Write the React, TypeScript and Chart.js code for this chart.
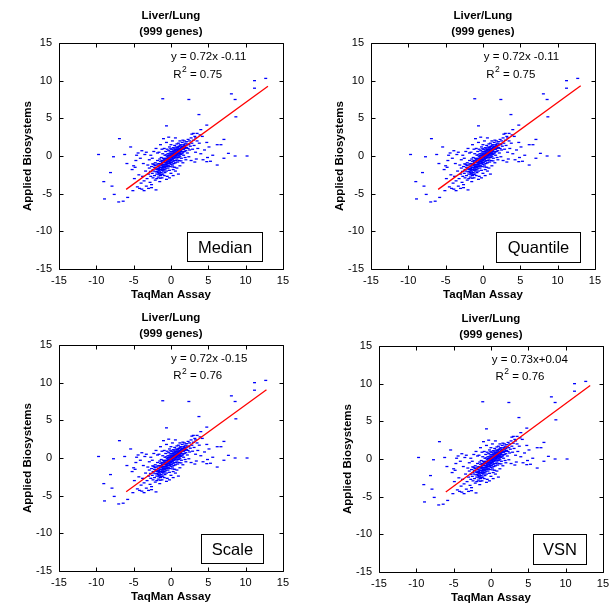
import { useEffect, useRef } from "react";
import { Chart, registerables } from "chart.js";

Chart.register(...registerables);

// ---------------- data ----------------
const panelNames = ["Median", "Quantile", "Scale", "VSN"];
const equationTexts = ["y = 0.72x -0.11", "y = 0.72x -0.11", "y = 0.72x -0.15", "y = 0.73x+0.04"];
const r2Values = ["0.75", "0.75", "0.76", "0.76"];
const fitSlopes = [0.72, 0.72, 0.72, 0.73];
const fitIntercepts = [-0.11, -0.11, -0.15, 0.04];
const fitXStart = [-6, -6, -6, -6.05];
const fitXEnd = [13, 13.1, 12.8, 13.3];
const titleLines = ["Liver/Lung", "(999 genes)"];
const xAxisTitle = "TaqMan Assay";
const yAxisTitle = "Applied Biosystems";
const tickValues = [-15, -10, -5, 0, 5, 10, 15];

// TaqMan (x) vs Applied Biosystems (y) log ratios
const genePoints: [number, number][] = [
  // outliers
  [-9.7, 0.2], [-9.0, -3.4], [-8.9, -5.7], [-8.1, -2.2], [-7.7, -0.1], [-7.9, -4.0], [-7.6, -5.1],
  [-6.9, 2.3], [-7.0, -6.1], [-6.4, -6.0], [-6.2, 0.2], [-5.9, -1.0], [-5.8, -5.5], [-5.4, 1.2],
  [-5.1, -4.6], [-4.6, 0.1], [-4.8, -1.5], [-4.5, -4.1], [-4.2, -4.3], [-3.9, -4.4], [-3.6, -4.6],
  [-2.0, -4.5], [-1.1, 7.6], [2.4, 7.5], [-0.6, 4.0], [3.75, 5.5], [4.0, 3.5], [3.5, 3.0], [4.8, 4.1],
  [4.8, 1.8], [6.2, 1.5], [6.7, 1.5], [7.1, 2.2], [7.7, 0.35], [7.1, -0.3], [8.6, 0.0], [10.2, 0.0],
  [8.1, 8.25], [8.6, 7.5], [8.7, 5.2], [11.2, 10.0], [11.2, 9.0], [12.7, 10.3], [6.2, -1.2],
  [4.8, -0.75], [5.3, -0.7],
  // core, left
  [-2.6, -1.4], [-2.5, -2.3], [-2.4, -1.8], [-2.4, -2.9], [-2.3, -1.1], [-2.3, -2.0], [-2.2, -2.6],
  [-2.2, -1.5], [-2.1, -3.2], [-2.1, -0.9], [-2.0, -2.1], [-2.0, -1.6], [-1.9, -2.4], [-1.9, -1.2],
  [-1.9, -3.0], [-1.8, -1.8], [-1.8, -0.6], [-1.7, -2.2], [-1.7, -1.4], [-1.7, -2.8], [-1.6, -1.0],
  [-1.6, -1.9], [-1.6, -2.5], [-1.5, -1.5], [-1.5, -0.4], [-1.5, -2.1], [-1.5, -3.4],
  [-1.4, -1.2], [-1.4, -1.8], [-1.4, -2.6], [-1.4, -0.7], [-1.3, -1.5], [-1.3, -2.2], [-1.3, -0.2],
  [-1.3, -1.0], [-1.2, -1.9], [-1.2, -1.3], [-1.2, -2.9], [-1.2, -0.6], [-1.1, -1.1], [-1.1, -1.7],
  [-1.1, -2.4], [-1.1, 0.3], [-1.0, -0.8], [-1.0, -1.4], [-1.0, -2.0], [-1.0, -0.3], [-0.9, -1.2],
  [-0.9, -1.8], [-0.9, -0.5], [-0.9, -2.6], [-0.8, -0.9], [-0.8, -1.5], [-0.8, 0.1], [-0.8, -2.2],
  [-0.7, -0.6], [-0.7, -1.1], [-0.7, -1.7], [-0.7, 0.6], [-0.6, -0.3], [-0.6, -0.9], [-0.6, -1.4],
  [-0.6, -2.0], [-0.5, -0.7], [-0.5, -0.1], [-0.5, -1.2], [-0.5, 0.9], [-0.5, -2.7],
  // core, centre
  [-0.4, -0.4], [-0.4, -1.0], [-0.4, 0.3], [-0.4, -1.6], [-0.3, -0.2], [-0.3, -0.8], [-0.3, 0.7],
  [-0.3, -1.3], [-0.2, -0.5], [-0.2, 0.1], [-0.2, -1.0], [-0.2, 1.2], [-0.2, -1.9], [-0.1, -0.3],
  [-0.1, 0.4], [-0.1, -0.8], [-0.1, -1.4], [0.0, 0.0], [0.0, -0.6], [0.0, 0.6], [0.0, -1.1],
  [0.0, 1.5], [0.0, -2.3], [0.1, -0.2], [0.1, 0.3], [0.1, -0.9], [0.1, 0.9], [0.2, 0.1], [0.2, -0.5],
  [0.2, 0.6], [0.2, -1.2], [0.3, -0.1], [0.3, 0.4], [0.3, -0.7], [0.3, 1.1], [0.3, -1.8], [0.4, 0.2],
  [0.4, -0.3], [0.4, 0.8], [0.4, -1.0], [0.5, 0.0], [0.5, 0.5], [0.5, -0.6], [0.5, 1.4], [0.5, -1.5],
  // core, right
  [0.6, 0.3], [0.6, -0.2], [0.6, 0.9], [0.6, -0.9], [0.7, 0.5], [0.7, 0.0], [0.7, 1.2], [0.7, -0.6],
  [0.8, 0.2], [0.8, 0.8], [0.8, -0.4], [0.8, 1.6], [0.9, 0.6], [0.9, 0.0], [0.9, 1.1], [0.9, -0.8],
  [1.0, 0.4], [1.0, 0.9], [1.0, -0.2], [1.0, 1.7], [1.1, 0.7], [1.1, 0.1], [1.1, 1.3], [1.1, -0.6],
  [1.2, 0.5], [1.2, 1.0], [1.2, -0.1], [1.2, 2.0], [1.3, 0.8], [1.3, 0.2], [1.3, 1.5], [1.4, 0.6],
  [1.4, 1.1], [1.4, -0.3], [1.5, 0.9], [1.5, 0.3], [1.5, 1.8],
  [1.6, 1.2], [1.6, 0.5], [1.6, 2.1], [1.7, 0.9], [1.7, 1.5], [1.7, 0.1], [1.8, 1.3], [1.8, 0.6],
  [1.8, 2.0], [1.9, 1.0], [1.9, 1.7], [1.9, -0.2], [2.0, 1.4], [2.0, 0.7], [2.1, 1.9], [2.1, 1.1],
  [2.2, 0.4], [2.2, 1.6], [2.3, 2.2], [2.3, 1.0], [2.4, 1.5], [2.5, 0.8], [2.5, 2.0], [2.6, 1.3],
  [2.7, 2.4], [2.8, 1.7], [2.9, 0.9], [3.0, 2.1], [3.1, 1.4], [3.2, 2.6],
  // core, dense fill
  [-2.15, -1.25], [-1.95, -1.75], [-1.85, -2.05], [-1.75, -1.05], [-1.65, -1.65], [-1.55, -2.35],
  [-1.45, -1.05], [-1.35, -1.75], [-1.25, -1.15], [-1.25, -2.45], [-1.15, -0.85], [-1.15, -1.55],
  [-1.05, -1.15], [-1.05, -1.85], [-0.95, -0.65], [-0.95, -1.45], [-0.85, -1.15], [-0.85, -0.35],
  [-0.75, -1.35], [-0.75, -0.85], [-0.65, -0.55], [-0.65, -1.15], [-0.55, -0.95], [-0.55, -0.35],
  [-0.45, -0.65], [-0.45, -1.35], [-0.35, -0.45], [-0.35, 0.05], [-0.25, -0.75], [-0.25, -0.15],
  [-0.15, -0.55], [-0.15, 0.25], [-0.05, -0.15], [-0.05, -0.85], [0.05, 0.15], [0.05, -0.45],
  [0.15, -0.05], [0.15, 0.55], [0.25, 0.25], [0.25, -0.35], [0.35, 0.15], [0.35, 0.65],
  [0.45, 0.35], [0.45, -0.15], [0.55, 0.25], [0.55, 0.75], [0.65, 0.55], [0.65, 0.05],
  [0.75, 0.35], [0.75, 0.85], [0.85, 0.45], [0.85, 1.05], [0.95, 0.75], [0.95, 0.25],
  [1.05, 0.55], [1.05, 1.25], [1.15, 0.85], [1.15, 0.35], [1.25, 0.75], [1.25, 1.35],
  [1.35, 1.05], [1.45, 0.85], [1.55, 1.25], [1.65, 0.95], [1.75, 1.35], [1.85, 1.05],
  [1.95, 1.45], [2.05, 1.15], [-2.45, -1.05], [-2.75, -2.05], [-0.05, 0.95], [0.45, 1.05],
  [-0.65, 0.15], [-1.45, -2.95], [0.25, -1.45], [1.35, -0.65],
  // sparse surroundings
  [-3.0, -2.4], [-3.2, -3.0], [-2.8, -3.5], [-3.4, -2.0], [-3.6, -3.3], [-2.9, -1.6], [-3.8, -2.7],
  [-4.0, -3.6], [-3.3, -4.0], [-2.7, -2.7], [-2.6, -3.8], [-3.1, -1.2], [-4.3, -2.5], [-3.7, -1.0],
  [-4.1, -0.3], [-3.5, 0.2], [-2.9, -0.5], [-4.4, 0.4], [-3.9, 0.7], [-2.7, 0.1], [-3.3, 0.5],
  [-4.7, -0.6], [-5.0, -1.3], [-2.5, -0.3], [-2.3, 0.6], [-2.0, 1.0], [-1.8, 0.4], [-2.6, -4.2],
  [-3.0, -4.3], [-4.9, -3.0], [-5.2, -1.8],
  [-1.4, 1.5], [-0.9, 1.0], [-0.6, 1.8], [-1.2, 0.9], [-0.3, 2.5], [0.2, 2.0], [-1.0, 2.3],
  [0.6, 2.4], [-1.6, 0.5],
  [0.3, -2.6], [0.8, -1.6], [1.2, -1.3], [-0.2, -2.9], [1.6, -0.9], [0.6, -2.0], [1.0, -2.4],
  [2.0, -0.5], [-0.6, -3.1], [2.4, -0.1],
  [3.3, 0.5], [3.6, 1.0], [3.4, -0.4], [4.0, 0.3], [3.8, 1.7], [4.3, -0.5], [3.2, -0.8], [4.5, 0.8],
  [5.1, 1.2], [3.5, 2.0], [4.2, 2.6], [3.0, 3.0], [2.8, 2.9], [3.3, 2.4], [5.6, 0.1], [4.9, -0.2],
  [2.7, -0.6], [3.9, 2.8],
];

// ---------------- layout ----------------
const FONT = '"Liberation Sans", Arial, Helvetica, sans-serif';
const AXIS_W = 58;
const PAD_TOP = 43;
const PLOT_W = 225;
const PLOT_H = 226;
const CANVAS_W = 293;
const CANVAS_H = 305;

const PANEL_LAYOUT = [
  { left: 59, top: 43, eq: [0.0, 13.15], r2: [0.3, 10.8], box: [2.1, 12.2, -10.1, -14.0] },
  { left: 371, top: 43, eq: [0.1, 13.15], r2: [0.45, 10.8], box: [1.7, 13.0, -10.15, -14.1] },
  { left: 59, top: 345, eq: [0.0, 13.2], r2: [0.3, 10.85], box: [4.0, 12.3, -10.05, -14.0] },
  { left: 379, top: 346, eq: [0.1, 13.2], r2: [0.6, 10.9], box: [5.7, 12.8, -9.9, -13.9] },
];

function makeOverlay(i: number) {
  const L = PANEL_LAYOUT[i];
  return {
    id: "overlay" + i,
    afterDatasetsDraw(chart: any) {
      const { ctx, chartArea: a } = chart;
      const xs = chart.scales.x;
      const ys = chart.scales.y;
      ctx.save();
      ctx.strokeStyle = "#000";
      ctx.fillStyle = "#000";
      ctx.lineWidth = 1;
      const l = Math.round(a.left) + 0.5;
      const t = Math.round(a.top) + 0.5;
      const r = Math.round(a.right) + 0.5;
      const b = Math.round(a.bottom) + 0.5;
      ctx.beginPath();
      ctx.rect(l, t, r - l, b - t);
      ctx.stroke();
      // inner tick marks on all four sides
      ctx.beginPath();
      for (const v of tickValues) {
        const px = Math.round(xs.getPixelForValue(v)) + 0.5;
        ctx.moveTo(px, b);
        ctx.lineTo(px, b - 4);
        ctx.moveTo(px, t);
        ctx.lineTo(px, t + 4);
        const py = Math.round(ys.getPixelForValue(v)) + 0.5;
        ctx.moveTo(l, py);
        ctx.lineTo(l + 4, py);
        ctx.moveTo(r, py);
        ctx.lineTo(r - 4, py);
      }
      ctx.stroke();

      // method box
      const bx1 = Math.round(xs.getPixelForValue(L.box[0])) + 0.5;
      const bx2 = Math.round(xs.getPixelForValue(L.box[1])) + 0.5;
      const by1 = Math.round(ys.getPixelForValue(L.box[2])) + 0.5;
      const by2 = Math.round(ys.getPixelForValue(L.box[3])) + 0.5;
      ctx.fillStyle = "#fff";
      ctx.fillRect(bx1, by1, bx2 - bx1, by2 - by1);
      ctx.strokeRect(bx1, by1, bx2 - bx1, by2 - by1);
      ctx.fillStyle = "#000";
      ctx.font = `16.5px ${FONT}`;
      ctx.textAlign = "center";
      ctx.textBaseline = "middle";
      ctx.fillText(panelNames[i], (bx1 + bx2) / 2, (by1 + by2) / 2 + 1);

      // equation + R^2
      ctx.textAlign = "left";
      ctx.font = `11.5px ${FONT}`;
      ctx.fillText(equationTexts[i], xs.getPixelForValue(L.eq[0]), ys.getPixelForValue(L.eq[1]));
      let rx = xs.getPixelForValue(L.r2[0]);
      const ry = ys.getPixelForValue(L.r2[1]);
      ctx.fillText("R", rx, ry);
      rx += ctx.measureText("R").width + 0.5;
      ctx.font = `8.5px ${FONT}`;
      ctx.fillText("2", rx, ry - 5);
      rx += ctx.measureText("2").width;
      ctx.font = `11.5px ${FONT}`;
      ctx.fillText(" = " + r2Values[i], rx, ry);

      // titles
      const cx = (a.left + a.right) / 2;
      ctx.textAlign = "center";
      ctx.font = `bold 11.5px ${FONT}`;
      ctx.fillText(titleLines[0], cx, a.top - 27);
      ctx.fillText(titleLines[1], cx, a.top - 11.5);
      ctx.fillText(xAxisTitle, cx, a.bottom + 25.5);
      ctx.translate(a.left - 31, (a.top + a.bottom) / 2);
      ctx.rotate(-Math.PI / 2);
      ctx.fillText(yAxisTitle, 0, 0);
      ctx.restore();
    },
  };
}

function Panel({ index }: { index: number }) {
  const ref = useRef<HTMLCanvasElement>(null);
  useEffect(() => {
    const canvas = ref.current;
    if (!canvas) return;
    const fitData = [fitXStart[index], fitXEnd[index]].map((xv) => ({
      x: xv,
      y: fitSlopes[index] * xv + fitIntercepts[index],
    }));
    const tickCfg = (pad: number) => ({
      stepSize: 5,
      color: "#000",
      padding: pad,
      autoSkip: false,
      maxRotation: 0,
      font: { size: 11, family: FONT },
    });
    const chart = new Chart(canvas, {
      type: "scatter",
      data: {
        datasets: [
          {
            label: "fit",
            data: fitData,
            showLine: true,
            borderColor: "#ff0000",
            borderWidth: 1.3,
            pointRadius: 0,
            order: 0,
          },
          {
            label: "genes",
            data: genePoints.map(([x, y]) => ({ x, y })),
            pointStyle: "line",
            pointRadius: 1.5,
            pointBorderWidth: 1.3,
            borderColor: "#0000ff",
            backgroundColor: "#0000ff",
            order: 1,
          },
        ],
      },
      options: {
        animation: false,
        responsive: false,
        events: [],
        layout: { padding: { top: PAD_TOP, right: CANVAS_W - AXIS_W - PLOT_W, left: 0, bottom: 0 } },
        plugins: { legend: { display: false }, tooltip: { enabled: false }, title: { display: false } },
        scales: {
          x: {
            type: "linear",
            min: -15,
            max: 15,
            grid: { display: false, drawTicks: false },
            border: { display: false },
            ticks: tickCfg(5),
            afterFit: (s: any) => {
              s.height = CANVAS_H - PAD_TOP - PLOT_H;
            },
          },
          y: {
            type: "linear",
            min: -15,
            max: 15,
            grid: { display: false, drawTicks: false },
            border: { display: false },
            ticks: tickCfg(7),
            afterFit: (s: any) => {
              s.width = AXIS_W;
            },
          },
        },
      } as any,
      plugins: [makeOverlay(index)],
    });
    return () => chart.destroy();
  }, [index]);
  const L = PANEL_LAYOUT[index];
  return (
    <canvas
      ref={ref}
      width={CANVAS_W}
      height={CANVAS_H}
      style={{
        position: "absolute",
        left: L.left - AXIS_W,
        top: L.top - PAD_TOP,
        width: CANVAS_W,
        height: CANVAS_H,
      }}
    />
  );
}

export default function App() {
  return (
    <div
      style={{
        position: "absolute",
        left: 0,
        top: 0,
        width: 616,
        height: 613,
        overflow: "hidden",
        background: "#fff",
      }}
    >
      {panelNames.map((_, i) => (
        <Panel key={i} index={i} />
      ))}
    </div>
  );
}
